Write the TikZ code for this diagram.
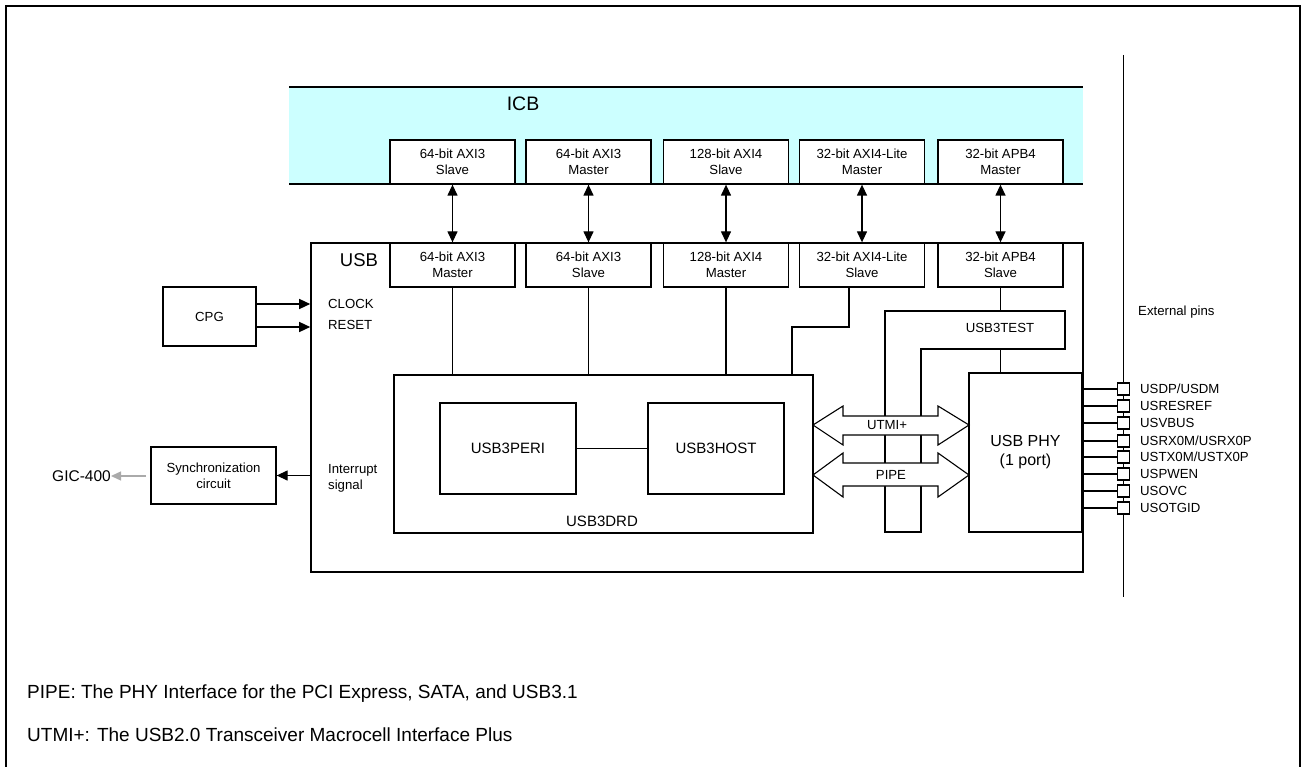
\documentclass[tikz,border=0pt]{standalone}
\usepackage{fontspec}
\setmainfont{Liberation Sans}
\usetikzlibrary{arrows.meta}
\newcommand\fsz[2]{\fontsize{#1}{#2}\selectfont}
\definecolor{icbcyan}{RGB}{204,255,255}
\definecolor{gicgray}{RGB}{170,170,170}
\tikzset{
  box/.style={draw, line width=1.3pt, fill=white, inner sep=0pt, align=center, font=\fsz{13.2}{16}},
  tbox/.style={draw, line width=2.2pt, fill=white, inner sep=0pt, align=center, font=\fsz{15}{18}},
  bus/.style={box, minimum width=125pt, minimum height=44pt},
  dbl/.style={line width=1.3pt, {Triangle[length=11pt,width=10pt]}-{Triangle[length=11pt,width=10pt]}},
  sarr/.style={line width=1.3pt, -{Triangle[length=11pt,width=10pt]}},
  wire/.style={line width=1.1pt},
  fat/.style={draw, line width=1.1pt, fill=white},
  lbl/.style={inner sep=0pt, font=\fsz{13.2}{16}, align=left},
  pin/.style={draw, line width=1.1pt, fill=white, minimum width=12pt, minimum height=12pt, inner sep=0pt}
}
\begin{document}
\begin{tikzpicture}[x=1pt,y=-1pt]
\useasboundingbox (0,0) rectangle (1301,767);
% frame
\draw[line width=2pt] (6,785) -- (6,6) -- (1300,6) -- (1300,785);
% ICB band
\fill[icbcyan] (289,87) rectangle (1083,184);
\draw[line width=1.6pt] (289,87) -- (1083,87);
\draw[line width=1.6pt] (289,184) -- (1083,184);
\node[inner sep=0pt, font=\fsz{19.5}{21}] (icb) at (523,104) {ICB};
% top bus boxes
\node[bus] (t1) at (452.5,162) {64-bit AXI3\\Slave};
\node[bus] (t2) at (588.5,162) {64-bit AXI3\\Master};
\node[bus] (t3) at (726,162) {128-bit AXI4\\Slave};
\node[bus] (t4) at (862,162) {32-bit AXI4-Lite\\Master};
\node[bus] (t5) at (1000.5,162) {32-bit APB4\\Master};
% USB box
\node[draw, line width=1.6pt, minimum width=772pt, minimum height=329pt, inner sep=0pt] (usb) at (697,407.5) {};
\node[inner sep=0pt, font=\fsz{18.5}{20}] (usblbl) at (359,260) {USB};
% bottom bus boxes
\node[bus] (b1) at (452.5,265) {64-bit AXI3\\Master};
\node[bus] (b2) at (588.5,265) {64-bit AXI3\\Slave};
\node[bus] (b3) at (726,265) {128-bit AXI4\\Master};
\node[bus] (b4) at (862,265) {32-bit AXI4-Lite\\Slave};
\node[bus] (b5) at (1000.5,265) {32-bit APB4\\Slave};
% bus arrows
\foreach \i in {1,...,5} {\draw[dbl] (t\i.south) -- (b\i.north);}
% USB3DRD
\node[tbox, minimum width=419pt, minimum height=158pt] (drd) at (603.5,454) {};
\node[inner sep=0pt, font=\fsz{15}{18}] (drdlbl) at (602,521) {USB3DRD};
\node[tbox, minimum width=136pt, minimum height=91pt] (peri) at (508,448.5) {USB3PERI};
\node[tbox, minimum width=136pt, minimum height=91pt] (host) at (716,448.5) {USB3HOST};
\draw[wire] (peri.east) -- (host.west);
% wires from bus boxes
\draw[wire] (b1.south) -- (b1.south |- drd.north);
\draw[wire] (b2.south) -- (b2.south |- drd.north);
\draw[wire] (b3.south) -- (b3.south |- drd.north);
\coordinate (b4out) at (849,287);
\coordinate (b4bend) at (849,327);
\coordinate (b4bend2) at (792,327);
\draw[wire] (b4out) -- (b4bend) -- (b4bend2) -- (b4bend2 |- drd.north);
% USB3TEST L-shape
\draw[line width=2.2pt, fill=white] (885,532) -- (885,311) -- (1065,311) -- (1065,349) -- (921,349) -- (921,532) -- cycle;
\node[inner sep=0pt, font=\fsz{13.2}{16}] (test) at (1000,328) {USB3TEST};
\coordinate (testtop) at (1000.5,311);
\coordinate (testbot) at (1000.5,349);
\draw[wire] (b5.south) -- (testtop);
% USB PHY
\node[tbox, minimum width=113pt, minimum height=159pt, font=\fsz{16}{19}] (phy) at (1025.5,452.5) {USB PHY\\(1 port)};
\draw[wire] (testbot) -- (phy.north -| testbot);
% fat arrows
\draw[fat] (813,425) -- (843,406) -- (843,416) -- (938,416) -- (938,406) -- (969,425) -- (938,445) -- (938,435) -- (843,435) -- (843,445) -- cycle;
\node[inner sep=0pt, font=\fsz{13.2}{16}] (utmi) at (887,425) {UTMI+};
\draw[fat] (813,475) -- (843,453) -- (843,463) -- (938,463) -- (938,453) -- (969,475) -- (938,497) -- (938,486) -- (843,486) -- (843,497) -- cycle;
\node[inner sep=0pt, font=\fsz{13.2}{16}] (pipe) at (891,475) {PIPE};
% external pins
\coordinate (ptop) at (1123.5,55);
\coordinate (pbot) at (1123.5,597);
\draw[wire] (ptop) -- (pbot);
\node[lbl, anchor=west] (ext) at (1138,312) {External pins};
\foreach \n/\y/\t in {1/389/USDP\slash USDM, 2/406/USRESREF, 3/423/USVBUS, 4/441/USRX0M\slash USRX0P, 5/457/USTX0M\slash USTX0P, 6/474/USPWEN, 7/491/USOVC, 8/508/USOTGID} {
  \draw[wire] (phy.east |- 0,\y) -- (1117.5,\y);
  \node[pin] (p\n) at (1123.5,\y) {};
  \node[lbl, anchor=west] (pl\n) at (1140,\y) {\t};
}
% CPG
\node[box, minimum width=93pt, minimum height=59pt] (cpg) at (209.5,316.5) {CPG};
\coordinate (clk) at (256,304);
\coordinate (rst) at (256,327);
\draw[sarr] (clk) -- (usb.west |- clk);
\draw[sarr] (rst) -- (usb.west |- rst);
\node[lbl, anchor=west] (clklbl) at (328,304) {CLOCK};
\node[lbl, anchor=west] (rstlbl) at (328,325) {RESET};
% Sync
\node[box, minimum width=125pt, minimum height=57pt] (sync) at (213.5,475.5) {Synchronization\\circuit};
\draw[sarr] (usb.west |- sync.east) -- (sync.east);
\node[lbl, anchor=west] (intlbl) at (328,478) {Interrupt\\signal};
\node[inner sep=0pt, anchor=east, font=\fsz{15.5}{18}] (gic) at (111,476) {GIC-400};
\draw[line width=1.3pt, gicgray, -{Triangle[length=10pt,width=9pt]}] (146,476) -- (gic.east);
% footnotes
\node[inner sep=0pt, anchor=west, font=\fsz{19}{22}] (n1) at (27,694) {PIPE: The PHY Interface for the PCI Express, SATA, and USB3.1};
\node[inner sep=0pt, anchor=west, font=\fsz{19}{22}] (n2) at (27,735) {UTMI+: The USB2.0 Transceiver Macrocell Interface Plus};
\end{tikzpicture}
\end{document}
